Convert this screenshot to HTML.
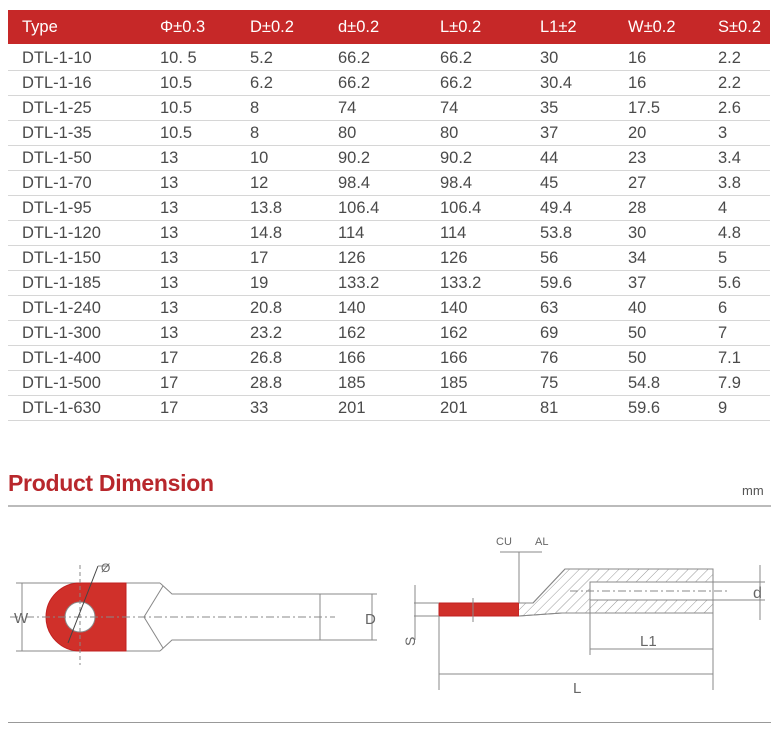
<!DOCTYPE html>
<html><head><meta charset="utf-8"><style>
body{margin:0;background:#fff;width:779px;height:737px;overflow:hidden;font-family:"Liberation Sans",sans-serif;}
.hdr{position:absolute;left:8px;top:10px;width:762px;height:34px;background:#c62828;}
.t{position:absolute;font-size:16.5px;color:#4a4a4a;white-space:nowrap;}
.h{color:#fff;font-size:16.5px;}
.sep{position:absolute;left:8px;width:762px;height:1px;background:#d6d6d6;}
</style></head><body>
<div class="hdr"></div>
<div id="tbl"></div>
<div style="position:absolute;left:8px;top:470px;font-size:23px;font-weight:bold;color:#b8272c;letter-spacing:-0.3px">Product Dimension</div>
<div style="position:absolute;left:742px;top:483px;font-size:13px;color:#555">mm</div>
<div style="position:absolute;left:8px;top:505px;width:763px;height:2px;background:#bbb"></div>
<div style="position:absolute;left:8px;top:722px;width:763px;height:1px;background:#999"></div>
<svg style="position:absolute;left:0;top:0" width="779" height="737" viewBox="0 0 779 737">
<defs><pattern id="hat" width="7" height="7" patternUnits="userSpaceOnUse" patternTransform="rotate(45)"><rect width="7" height="7" fill="#fff"/><line x1="0" y1="0" x2="0" y2="7" stroke="#999" stroke-width="1"/></pattern></defs>
<g stroke="#888" stroke-width="1" fill="none">
<line x1="16" y1="583" x2="160" y2="583"/><line x1="16" y1="651" x2="160" y2="651"/>
<path d="M80 583 A34 34 0 0 0 80 651 L126 651 L126 583 Z" fill="#d0302a" stroke="#c02020"/>
<circle cx="80" cy="617" r="15" fill="#fff"/>
<path d="M160 583 L172 594 L320 594 M160 651 L172 640 L320 640 M163 586 L144 617 L163 648"/>
<line x1="320" y1="594" x2="320" y2="640"/>
<line x1="320" y1="594" x2="377" y2="594"/><line x1="320" y1="640" x2="377" y2="640"/>
<line x1="22" y1="583" x2="22" y2="651"/><line x1="372" y1="594" x2="372" y2="640"/>
<line x1="10" y1="617" x2="335" y2="617" stroke-dasharray="8 3 2 3"/>
<line x1="80" y1="565" x2="80" y2="665" stroke-dasharray="4 3"/>
<line x1="68" y1="643" x2="98" y2="566" stroke="#444"/>
<line x1="98" y1="566" x2="108" y2="566"/>
<rect x="439" y="603" width="80" height="13" fill="#d0302a" stroke="#c02020"/>
<path d="M519 603 L533 603 L565 569 L713 569 L713 613 L562 613 L519 616" fill="url(#hat)"/>
<rect x="590" y="582" width="123" height="18" fill="#fff" stroke="#888"/>
<line x1="570" y1="591" x2="728" y2="591" stroke-dasharray="8 3 2 3"/>
<line x1="519" y1="552" x2="519" y2="603"/><line x1="500" y1="552" x2="542" y2="552"/>
<line x1="414" y1="603" x2="439" y2="603"/><line x1="414" y1="616" x2="439" y2="616"/>
<line x1="415" y1="585" x2="415" y2="640"/>
<line x1="713" y1="582" x2="765" y2="582"/><line x1="713" y1="600" x2="765" y2="600"/>
<line x1="760" y1="565" x2="760" y2="620"/>
<line x1="590" y1="600" x2="590" y2="655"/><line x1="713" y1="613" x2="713" y2="690"/>
<line x1="590" y1="649" x2="713" y2="649"/>
<line x1="439" y1="616" x2="439" y2="690"/>
<line x1="439" y1="674" x2="713" y2="674"/>
<line x1="473" y1="598" x2="473" y2="622"/>
</g>
<path d="M519 603 L533 603 L565 569 L713 569 L713 613 L562 613 L519 616" fill="none" stroke="#888"/>
<g font-family="Liberation Sans" fill="#666" font-size="15">
<text x="14" y="623">W</text><text x="365" y="624">D</text><text x="101" y="572" font-size="12">Ø</text>
<text x="496" y="545" font-size="11">CU</text><text x="535" y="545" font-size="11">AL</text>
<text x="753" y="598" font-size="16">d</text><text x="640" y="646">L1</text><text x="573" y="693">L</text>
<text x="404" y="645" font-size="14" transform="rotate(-90 410 640)">S</text>
</g>
</svg>
<script>
var cols=[22,160,250,338,440,540,628,718];
var hd=["Type","Φ±0.3","D±0.2","d±0.2","L±0.2","L1±2","W±0.2","S±0.2"];
var rows=[["DTL-1-10","10. 5","5.2","66.2","66.2","30","16","2.2"],["DTL-1-16","10.5","6.2","66.2","66.2","30.4","16","2.2"],["DTL-1-25","10.5","8","74","74","35","17.5","2.6"],["DTL-1-35","10.5","8","80","80","37","20","3"],["DTL-1-50","13","10","90.2","90.2","44","23","3.4"],["DTL-1-70","13","12","98.4","98.4","45","27","3.8"],["DTL-1-95","13","13.8","106.4","106.4","49.4","28","4"],["DTL-1-120","13","14.8","114","114","53.8","30","4.8"],["DTL-1-150","13","17","126","126","56","34","5"],["DTL-1-185","13","19","133.2","133.2","59.6","37","5.6"],["DTL-1-240","13","20.8","140","140","63","40","6"],["DTL-1-300","13","23.2","162","162","69","50","7"],["DTL-1-400","17","26.8","166","166","76","50","7.1"],["DTL-1-500","17","28.8","185","185","75","54.8","7.9"],["DTL-1-630","17","33","201","201","81","59.6","9"]];
var h="";
hd.forEach(function(t,i){h+='<div class="t h" style="left:'+cols[i]+'px;top:18px">'+t+'</div>';});
rows.forEach(function(r,k){var y=45+k*25;r.forEach(function(t,i){h+='<div class="t" style="left:'+cols[i]+'px;top:'+(y+4)+'px">'+t+'</div>';});h+='<div class="sep" style="top:'+(y+25)+'px"></div>';});
document.getElementById("tbl").innerHTML=h;
</script>
</body></html>
